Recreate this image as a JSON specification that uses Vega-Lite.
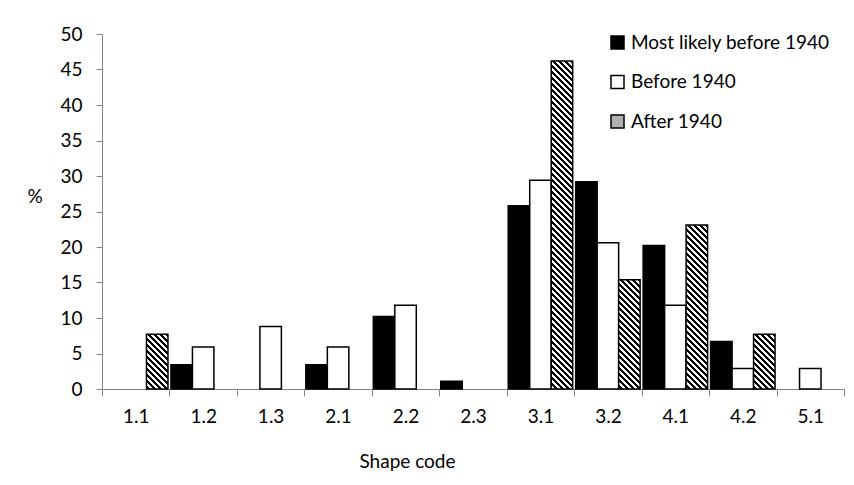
{
  "$schema": "https://vega.github.io/schema/vega-lite/v6.json",
  "width": 742,
  "height": 355,
  "autosize": {"type": "none"},
  "padding": {"left": 102, "top": 34, "right": 10, "bottom": 96},
  "background": "white",
  "config": {"font": "Lato", "view": {"stroke": null}, "axis": {"grid": false}},
  "data": {
    "values": [
      {"code": "1.1", "series": "After 1940", "pct": 7.7},
      {"code": "1.2", "series": "Most likely before 1940", "pct": 3.4},
      {"code": "1.2", "series": "Before 1940", "pct": 5.9},
      {"code": "1.3", "series": "Before 1940", "pct": 8.8},
      {"code": "2.1", "series": "Most likely before 1940", "pct": 3.4},
      {"code": "2.1", "series": "Before 1940", "pct": 5.9},
      {"code": "2.2", "series": "Most likely before 1940", "pct": 10.2},
      {"code": "2.2", "series": "Before 1940", "pct": 11.8},
      {"code": "2.3", "series": "Most likely before 1940", "pct": 1.1},
      {"code": "3.1", "series": "Most likely before 1940", "pct": 25.8},
      {"code": "3.1", "series": "Before 1940", "pct": 29.4},
      {"code": "3.1", "series": "After 1940", "pct": 46.2},
      {"code": "3.2", "series": "Most likely before 1940", "pct": 29.2},
      {"code": "3.2", "series": "Before 1940", "pct": 20.6},
      {"code": "3.2", "series": "After 1940", "pct": 15.4},
      {"code": "4.1", "series": "Most likely before 1940", "pct": 20.2},
      {"code": "4.1", "series": "Before 1940", "pct": 11.8},
      {"code": "4.1", "series": "After 1940", "pct": 23.1},
      {"code": "4.2", "series": "Most likely before 1940", "pct": 6.7},
      {"code": "4.2", "series": "Before 1940", "pct": 2.9},
      {"code": "4.2", "series": "After 1940", "pct": 7.7},
      {"code": "5.1", "series": "Before 1940", "pct": 2.9}
    ]
  },
  "mark": {"type": "bar", "stroke": "#000", "strokeWidth": 1.5},
  "encoding": {
    "x": {
      "field": "code",
      "type": "nominal",
      "scale": {"domain": ["1.1","1.2","1.3","2.1","2.2","2.3","3.1","3.2","4.1","4.2","5.1"], "paddingInner": 0, "paddingOuter": 0},
      "axis": {
        "title": "Shape code",
        "titleFontSize": 19,
        "titleFontWeight": "normal",
        "titleColor": "#000",
        "titleX": 305,
        "titleY": 78,
        "titleAlign": "center",
        "titleBaseline": "alphabetic",
        "labelAngle": 0,
        "labelFontSize": 19,
        "labelColor": "#000",
        "labelPadding": 11,
        "tickBand": "extent",
        "tickSize": 7,
        "tickColor": "#868686",
        "tickWidth": 1,
        "domainColor": "#868686",
        "domainWidth": 1
      }
    },
    "xOffset": {
      "field": "series",
      "type": "nominal",
      "scale": {"domain": ["Most likely before 1940", "Before 1940", "After 1940"], "paddingInner": 0, "paddingOuter": 0.07}
    },
    "y": {
      "field": "pct",
      "type": "quantitative",
      "scale": {"domain": [0, 50], "nice": false},
      "axis": {
        "title": "%",
        "titleAngle": 0,
        "titleX": -67.5,
        "titleY": 162,
        "titleAlign": "center",
        "titleBaseline": "middle",
        "titleFontSize": 19,
        "titleFontWeight": "normal",
        "titleColor": "#000",
        "values": [0, 5, 10, 15, 20, 25, 30, 35, 40, 45, 50],
        "labelFontSize": 19,
        "labelColor": "#000",
        "labelPadding": 14,
        "tickSize": 6,
        "tickColor": "#868686",
        "tickWidth": 1,
        "domainColor": "#868686",
        "domainWidth": 1
      }
    },
    "fill": {
      "field": "series",
      "type": "nominal",
      "scale": {"domain": ["Most likely before 1940", "Before 1940", "After 1940"], "range": ["#000000", "#ffffff", "#b0b0b0"]},
      "legend": {
        "title": null,
        "orient": "none",
        "legendX": 506,
        "legendY": -1,
        "padding": 0,
        "symbolType": "square",
        "symbolSize": 169,
        "symbolStrokeColor": "#000",
        "symbolStrokeWidth": 1.5,
        "labelFontSize": 19,
        "labelColor": "#000",
        "labelOffset": 4,
        "labelLimit": 0,
        "rowPadding": 19.5
      },
      "condition": [
        {
          "test": "datum.series === 'After 1940' && (datum.code === '1.1' || datum.code === '4.2')",
          "value": {
            "gradient": "linear", "x1": 1, "y1": 0, "x2": -2.7356, "y2": 9.507,
            "stops": [
              {"offset":0,"color":"#000"},{"offset":0.005,"color":"#000"},{"offset":0.005,"color":"#fff"},{"offset":0.01,"color":"#fff"},
              {"offset":0.01,"color":"#000"},{"offset":0.015,"color":"#000"},{"offset":0.015,"color":"#fff"},{"offset":0.02,"color":"#fff"},
              {"offset":0.02,"color":"#000"},{"offset":0.025,"color":"#000"},{"offset":0.025,"color":"#fff"},{"offset":0.03,"color":"#fff"},
              {"offset":0.03,"color":"#000"},{"offset":0.035,"color":"#000"},{"offset":0.035,"color":"#fff"},{"offset":0.04,"color":"#fff"},
              {"offset":0.04,"color":"#000"},{"offset":0.045,"color":"#000"},{"offset":0.045,"color":"#fff"},{"offset":0.05,"color":"#fff"},
              {"offset":0.05,"color":"#000"},{"offset":0.055,"color":"#000"},{"offset":0.055,"color":"#fff"},{"offset":0.06,"color":"#fff"},
              {"offset":0.06,"color":"#000"},{"offset":0.065,"color":"#000"},{"offset":0.065,"color":"#fff"},{"offset":0.07,"color":"#fff"},
              {"offset":0.07,"color":"#000"},{"offset":0.075,"color":"#000"},{"offset":0.075,"color":"#fff"},{"offset":0.08,"color":"#fff"},
              {"offset":0.08,"color":"#000"},{"offset":0.085,"color":"#000"},{"offset":0.085,"color":"#fff"},{"offset":0.09,"color":"#fff"},
              {"offset":0.09,"color":"#000"},{"offset":0.095,"color":"#000"},{"offset":0.095,"color":"#fff"},{"offset":0.1,"color":"#fff"},
              {"offset":0.1,"color":"#000"},{"offset":0.105,"color":"#000"},{"offset":0.105,"color":"#fff"},{"offset":0.11,"color":"#fff"},
              {"offset":0.11,"color":"#000"},{"offset":0.115,"color":"#000"},{"offset":0.115,"color":"#fff"},{"offset":0.12,"color":"#fff"},
              {"offset":0.12,"color":"#000"},{"offset":0.125,"color":"#000"},{"offset":0.125,"color":"#fff"},{"offset":0.13,"color":"#fff"}
            ]
          }
        },
        {
          "test": "datum.series === 'After 1940' && datum.code === '3.2'",
          "value": {
            "gradient": "linear", "x1": 1, "y1": 0, "x2": -0.03804, "y2": 5.2835,
            "stops": [
              {"offset":0,"color":"#000"},{"offset":0.005,"color":"#000"},{"offset":0.005,"color":"#fff"},{"offset":0.01,"color":"#fff"},
              {"offset":0.01,"color":"#000"},{"offset":0.015,"color":"#000"},{"offset":0.015,"color":"#fff"},{"offset":0.02,"color":"#fff"},
              {"offset":0.02,"color":"#000"},{"offset":0.025,"color":"#000"},{"offset":0.025,"color":"#fff"},{"offset":0.03,"color":"#fff"},
              {"offset":0.03,"color":"#000"},{"offset":0.035,"color":"#000"},{"offset":0.035,"color":"#fff"},{"offset":0.04,"color":"#fff"},
              {"offset":0.04,"color":"#000"},{"offset":0.045,"color":"#000"},{"offset":0.045,"color":"#fff"},{"offset":0.05,"color":"#fff"},
              {"offset":0.05,"color":"#000"},{"offset":0.055,"color":"#000"},{"offset":0.055,"color":"#fff"},{"offset":0.06,"color":"#fff"},
              {"offset":0.06,"color":"#000"},{"offset":0.065,"color":"#000"},{"offset":0.065,"color":"#fff"},{"offset":0.07,"color":"#fff"},
              {"offset":0.07,"color":"#000"},{"offset":0.075,"color":"#000"},{"offset":0.075,"color":"#fff"},{"offset":0.08,"color":"#fff"},
              {"offset":0.08,"color":"#000"},{"offset":0.085,"color":"#000"},{"offset":0.085,"color":"#fff"},{"offset":0.09,"color":"#fff"},
              {"offset":0.09,"color":"#000"},{"offset":0.095,"color":"#000"},{"offset":0.095,"color":"#fff"},{"offset":0.1,"color":"#fff"},
              {"offset":0.1,"color":"#000"},{"offset":0.105,"color":"#000"},{"offset":0.105,"color":"#fff"},{"offset":0.11,"color":"#fff"},
              {"offset":0.11,"color":"#000"},{"offset":0.115,"color":"#000"},{"offset":0.115,"color":"#fff"},{"offset":0.12,"color":"#fff"},
              {"offset":0.12,"color":"#000"},{"offset":0.125,"color":"#000"},{"offset":0.125,"color":"#fff"},{"offset":0.13,"color":"#fff"},
              {"offset":0.13,"color":"#000"},{"offset":0.135,"color":"#000"},{"offset":0.135,"color":"#fff"},{"offset":0.14,"color":"#fff"},
              {"offset":0.14,"color":"#000"},{"offset":0.145,"color":"#000"},{"offset":0.145,"color":"#fff"},{"offset":0.15,"color":"#fff"},
              {"offset":0.15,"color":"#000"},{"offset":0.155,"color":"#000"},{"offset":0.155,"color":"#fff"},{"offset":0.16,"color":"#fff"},
              {"offset":0.16,"color":"#000"},{"offset":0.165,"color":"#000"},{"offset":0.165,"color":"#fff"},{"offset":0.17,"color":"#fff"},
              {"offset":0.17,"color":"#000"},{"offset":0.175,"color":"#000"},{"offset":0.175,"color":"#fff"},{"offset":0.18,"color":"#fff"},
              {"offset":0.18,"color":"#000"},{"offset":0.185,"color":"#000"},{"offset":0.185,"color":"#fff"},{"offset":0.19,"color":"#fff"},
              {"offset":0.19,"color":"#000"},{"offset":0.195,"color":"#000"},{"offset":0.195,"color":"#fff"},{"offset":0.2,"color":"#fff"},
              {"offset":0.2,"color":"#000"},{"offset":0.205,"color":"#000"},{"offset":0.205,"color":"#fff"},{"offset":0.21,"color":"#fff"},
              {"offset":0.21,"color":"#000"},{"offset":0.215,"color":"#000"},{"offset":0.215,"color":"#fff"},{"offset":0.22,"color":"#fff"}
            ]
          }
        },
        {
          "test": "datum.series === 'After 1940' && datum.code === '4.1'",
          "value": {
            "gradient": "linear", "x1": 1, "y1": 0, "x2": 0.52892, "y2": 3.5966,
            "stops": [
              {"offset":0,"color":"#000"},{"offset":0.005,"color":"#000"},{"offset":0.005,"color":"#fff"},{"offset":0.01,"color":"#fff"},
              {"offset":0.01,"color":"#000"},{"offset":0.015,"color":"#000"},{"offset":0.015,"color":"#fff"},{"offset":0.02,"color":"#fff"},
              {"offset":0.02,"color":"#000"},{"offset":0.025,"color":"#000"},{"offset":0.025,"color":"#fff"},{"offset":0.03,"color":"#fff"},
              {"offset":0.03,"color":"#000"},{"offset":0.035,"color":"#000"},{"offset":0.035,"color":"#fff"},{"offset":0.04,"color":"#fff"},
              {"offset":0.04,"color":"#000"},{"offset":0.045,"color":"#000"},{"offset":0.045,"color":"#fff"},{"offset":0.05,"color":"#fff"},
              {"offset":0.05,"color":"#000"},{"offset":0.055,"color":"#000"},{"offset":0.055,"color":"#fff"},{"offset":0.06,"color":"#fff"},
              {"offset":0.06,"color":"#000"},{"offset":0.065,"color":"#000"},{"offset":0.065,"color":"#fff"},{"offset":0.07,"color":"#fff"},
              {"offset":0.07,"color":"#000"},{"offset":0.075,"color":"#000"},{"offset":0.075,"color":"#fff"},{"offset":0.08,"color":"#fff"},
              {"offset":0.08,"color":"#000"},{"offset":0.085,"color":"#000"},{"offset":0.085,"color":"#fff"},{"offset":0.09,"color":"#fff"},
              {"offset":0.09,"color":"#000"},{"offset":0.095,"color":"#000"},{"offset":0.095,"color":"#fff"},{"offset":0.1,"color":"#fff"},
              {"offset":0.1,"color":"#000"},{"offset":0.105,"color":"#000"},{"offset":0.105,"color":"#fff"},{"offset":0.11,"color":"#fff"},
              {"offset":0.11,"color":"#000"},{"offset":0.115,"color":"#000"},{"offset":0.115,"color":"#fff"},{"offset":0.12,"color":"#fff"},
              {"offset":0.12,"color":"#000"},{"offset":0.125,"color":"#000"},{"offset":0.125,"color":"#fff"},{"offset":0.13,"color":"#fff"},
              {"offset":0.13,"color":"#000"},{"offset":0.135,"color":"#000"},{"offset":0.135,"color":"#fff"},{"offset":0.14,"color":"#fff"},
              {"offset":0.14,"color":"#000"},{"offset":0.145,"color":"#000"},{"offset":0.145,"color":"#fff"},{"offset":0.15,"color":"#fff"},
              {"offset":0.15,"color":"#000"},{"offset":0.155,"color":"#000"},{"offset":0.155,"color":"#fff"},{"offset":0.16,"color":"#fff"},
              {"offset":0.16,"color":"#000"},{"offset":0.165,"color":"#000"},{"offset":0.165,"color":"#fff"},{"offset":0.17,"color":"#fff"},
              {"offset":0.17,"color":"#000"},{"offset":0.175,"color":"#000"},{"offset":0.175,"color":"#fff"},{"offset":0.18,"color":"#fff"},
              {"offset":0.18,"color":"#000"},{"offset":0.185,"color":"#000"},{"offset":0.185,"color":"#fff"},{"offset":0.19,"color":"#fff"},
              {"offset":0.19,"color":"#000"},{"offset":0.195,"color":"#000"},{"offset":0.195,"color":"#fff"},{"offset":0.2,"color":"#fff"},
              {"offset":0.2,"color":"#000"},{"offset":0.205,"color":"#000"},{"offset":0.205,"color":"#fff"},{"offset":0.21,"color":"#fff"},
              {"offset":0.21,"color":"#000"},{"offset":0.215,"color":"#000"},{"offset":0.215,"color":"#fff"},{"offset":0.22,"color":"#fff"},
              {"offset":0.22,"color":"#000"},{"offset":0.225,"color":"#000"},{"offset":0.225,"color":"#fff"},{"offset":0.23,"color":"#fff"},
              {"offset":0.23,"color":"#000"},{"offset":0.235,"color":"#000"},{"offset":0.235,"color":"#fff"},{"offset":0.24,"color":"#fff"},
              {"offset":0.24,"color":"#000"},{"offset":0.245,"color":"#000"},{"offset":0.245,"color":"#fff"},{"offset":0.25,"color":"#fff"},
              {"offset":0.25,"color":"#000"},{"offset":0.255,"color":"#000"},{"offset":0.255,"color":"#fff"},{"offset":0.26,"color":"#fff"},
              {"offset":0.26,"color":"#000"},{"offset":0.265,"color":"#000"},{"offset":0.265,"color":"#fff"},{"offset":0.27,"color":"#fff"},
              {"offset":0.27,"color":"#000"},{"offset":0.275,"color":"#000"},{"offset":0.275,"color":"#fff"},{"offset":0.28,"color":"#fff"},
              {"offset":0.28,"color":"#000"},{"offset":0.285,"color":"#000"},{"offset":0.285,"color":"#fff"},{"offset":0.29,"color":"#fff"},
              {"offset":0.29,"color":"#000"},{"offset":0.295,"color":"#000"},{"offset":0.295,"color":"#fff"},{"offset":0.3,"color":"#fff"},
              {"offset":0.3,"color":"#000"},{"offset":0.305,"color":"#000"},{"offset":0.305,"color":"#fff"},{"offset":0.31,"color":"#fff"}
            ]
          }
        },
        {
          "test": "datum.series === 'After 1940' && datum.code === '3.1'",
          "value": {
            "gradient": "linear", "x1": 1, "y1": 0, "x2": 0.880721, "y2": 1.82133,
            "stops": [
              {"offset":0,"color":"#000"},{"offset":0.005,"color":"#000"},{"offset":0.005,"color":"#fff"},{"offset":0.01,"color":"#fff"},
              {"offset":0.01,"color":"#000"},{"offset":0.015,"color":"#000"},{"offset":0.015,"color":"#fff"},{"offset":0.02,"color":"#fff"},
              {"offset":0.02,"color":"#000"},{"offset":0.025,"color":"#000"},{"offset":0.025,"color":"#fff"},{"offset":0.03,"color":"#fff"},
              {"offset":0.03,"color":"#000"},{"offset":0.035,"color":"#000"},{"offset":0.035,"color":"#fff"},{"offset":0.04,"color":"#fff"},
              {"offset":0.04,"color":"#000"},{"offset":0.045,"color":"#000"},{"offset":0.045,"color":"#fff"},{"offset":0.05,"color":"#fff"},
              {"offset":0.05,"color":"#000"},{"offset":0.055,"color":"#000"},{"offset":0.055,"color":"#fff"},{"offset":0.06,"color":"#fff"},
              {"offset":0.06,"color":"#000"},{"offset":0.065,"color":"#000"},{"offset":0.065,"color":"#fff"},{"offset":0.07,"color":"#fff"},
              {"offset":0.07,"color":"#000"},{"offset":0.075,"color":"#000"},{"offset":0.075,"color":"#fff"},{"offset":0.08,"color":"#fff"},
              {"offset":0.08,"color":"#000"},{"offset":0.085,"color":"#000"},{"offset":0.085,"color":"#fff"},{"offset":0.09,"color":"#fff"},
              {"offset":0.09,"color":"#000"},{"offset":0.095,"color":"#000"},{"offset":0.095,"color":"#fff"},{"offset":0.1,"color":"#fff"},
              {"offset":0.1,"color":"#000"},{"offset":0.105,"color":"#000"},{"offset":0.105,"color":"#fff"},{"offset":0.11,"color":"#fff"},
              {"offset":0.11,"color":"#000"},{"offset":0.115,"color":"#000"},{"offset":0.115,"color":"#fff"},{"offset":0.12,"color":"#fff"},
              {"offset":0.12,"color":"#000"},{"offset":0.125,"color":"#000"},{"offset":0.125,"color":"#fff"},{"offset":0.13,"color":"#fff"},
              {"offset":0.13,"color":"#000"},{"offset":0.135,"color":"#000"},{"offset":0.135,"color":"#fff"},{"offset":0.14,"color":"#fff"},
              {"offset":0.14,"color":"#000"},{"offset":0.145,"color":"#000"},{"offset":0.145,"color":"#fff"},{"offset":0.15,"color":"#fff"},
              {"offset":0.15,"color":"#000"},{"offset":0.155,"color":"#000"},{"offset":0.155,"color":"#fff"},{"offset":0.16,"color":"#fff"},
              {"offset":0.16,"color":"#000"},{"offset":0.165,"color":"#000"},{"offset":0.165,"color":"#fff"},{"offset":0.17,"color":"#fff"},
              {"offset":0.17,"color":"#000"},{"offset":0.175,"color":"#000"},{"offset":0.175,"color":"#fff"},{"offset":0.18,"color":"#fff"},
              {"offset":0.18,"color":"#000"},{"offset":0.185,"color":"#000"},{"offset":0.185,"color":"#fff"},{"offset":0.19,"color":"#fff"},
              {"offset":0.19,"color":"#000"},{"offset":0.195,"color":"#000"},{"offset":0.195,"color":"#fff"},{"offset":0.2,"color":"#fff"},
              {"offset":0.2,"color":"#000"},{"offset":0.205,"color":"#000"},{"offset":0.205,"color":"#fff"},{"offset":0.21,"color":"#fff"},
              {"offset":0.21,"color":"#000"},{"offset":0.215,"color":"#000"},{"offset":0.215,"color":"#fff"},{"offset":0.22,"color":"#fff"},
              {"offset":0.22,"color":"#000"},{"offset":0.225,"color":"#000"},{"offset":0.225,"color":"#fff"},{"offset":0.23,"color":"#fff"},
              {"offset":0.23,"color":"#000"},{"offset":0.235,"color":"#000"},{"offset":0.235,"color":"#fff"},{"offset":0.24,"color":"#fff"},
              {"offset":0.24,"color":"#000"},{"offset":0.245,"color":"#000"},{"offset":0.245,"color":"#fff"},{"offset":0.25,"color":"#fff"},
              {"offset":0.25,"color":"#000"},{"offset":0.255,"color":"#000"},{"offset":0.255,"color":"#fff"},{"offset":0.26,"color":"#fff"},
              {"offset":0.26,"color":"#000"},{"offset":0.265,"color":"#000"},{"offset":0.265,"color":"#fff"},{"offset":0.27,"color":"#fff"},
              {"offset":0.27,"color":"#000"},{"offset":0.275,"color":"#000"},{"offset":0.275,"color":"#fff"},{"offset":0.28,"color":"#fff"},
              {"offset":0.28,"color":"#000"},{"offset":0.285,"color":"#000"},{"offset":0.285,"color":"#fff"},{"offset":0.29,"color":"#fff"},
              {"offset":0.29,"color":"#000"},{"offset":0.295,"color":"#000"},{"offset":0.295,"color":"#fff"},{"offset":0.3,"color":"#fff"},
              {"offset":0.3,"color":"#000"},{"offset":0.305,"color":"#000"},{"offset":0.305,"color":"#fff"},{"offset":0.31,"color":"#fff"},
              {"offset":0.31,"color":"#000"},{"offset":0.315,"color":"#000"},{"offset":0.315,"color":"#fff"},{"offset":0.32,"color":"#fff"},
              {"offset":0.32,"color":"#000"},{"offset":0.325,"color":"#000"},{"offset":0.325,"color":"#fff"},{"offset":0.33,"color":"#fff"},
              {"offset":0.33,"color":"#000"},{"offset":0.335,"color":"#000"},{"offset":0.335,"color":"#fff"},{"offset":0.34,"color":"#fff"},
              {"offset":0.34,"color":"#000"},{"offset":0.345,"color":"#000"},{"offset":0.345,"color":"#fff"},{"offset":0.35,"color":"#fff"},
              {"offset":0.35,"color":"#000"},{"offset":0.355,"color":"#000"},{"offset":0.355,"color":"#fff"},{"offset":0.36,"color":"#fff"},
              {"offset":0.36,"color":"#000"},{"offset":0.365,"color":"#000"},{"offset":0.365,"color":"#fff"},{"offset":0.37,"color":"#fff"},
              {"offset":0.37,"color":"#000"},{"offset":0.375,"color":"#000"},{"offset":0.375,"color":"#fff"},{"offset":0.38,"color":"#fff"},
              {"offset":0.38,"color":"#000"},{"offset":0.385,"color":"#000"},{"offset":0.385,"color":"#fff"},{"offset":0.39,"color":"#fff"},
              {"offset":0.39,"color":"#000"},{"offset":0.395,"color":"#000"},{"offset":0.395,"color":"#fff"},{"offset":0.4,"color":"#fff"},
              {"offset":0.4,"color":"#000"},{"offset":0.405,"color":"#000"},{"offset":0.405,"color":"#fff"},{"offset":0.41,"color":"#fff"},
              {"offset":0.41,"color":"#000"},{"offset":0.415,"color":"#000"},{"offset":0.415,"color":"#fff"},{"offset":0.42,"color":"#fff"},
              {"offset":0.42,"color":"#000"},{"offset":0.425,"color":"#000"},{"offset":0.425,"color":"#fff"},{"offset":0.43,"color":"#fff"},
              {"offset":0.43,"color":"#000"},{"offset":0.435,"color":"#000"},{"offset":0.435,"color":"#fff"},{"offset":0.44,"color":"#fff"},
              {"offset":0.44,"color":"#000"},{"offset":0.445,"color":"#000"},{"offset":0.445,"color":"#fff"},{"offset":0.45,"color":"#fff"},
              {"offset":0.45,"color":"#000"},{"offset":0.455,"color":"#000"},{"offset":0.455,"color":"#fff"},{"offset":0.46,"color":"#fff"},
              {"offset":0.46,"color":"#000"},{"offset":0.465,"color":"#000"},{"offset":0.465,"color":"#fff"},{"offset":0.47,"color":"#fff"},
              {"offset":0.47,"color":"#000"},{"offset":0.475,"color":"#000"},{"offset":0.475,"color":"#fff"},{"offset":0.48,"color":"#fff"},
              {"offset":0.48,"color":"#000"},{"offset":0.485,"color":"#000"},{"offset":0.485,"color":"#fff"},{"offset":0.49,"color":"#fff"},
              {"offset":0.49,"color":"#000"},{"offset":0.495,"color":"#000"},{"offset":0.495,"color":"#fff"},{"offset":0.5,"color":"#fff"},
              {"offset":0.5,"color":"#000"},{"offset":0.505,"color":"#000"},{"offset":0.505,"color":"#fff"},{"offset":0.51,"color":"#fff"},
              {"offset":0.51,"color":"#000"},{"offset":0.515,"color":"#000"},{"offset":0.515,"color":"#fff"},{"offset":0.52,"color":"#fff"},
              {"offset":0.52,"color":"#000"},{"offset":0.525,"color":"#000"},{"offset":0.525,"color":"#fff"},{"offset":0.53,"color":"#fff"},
              {"offset":0.53,"color":"#000"},{"offset":0.535,"color":"#000"},{"offset":0.535,"color":"#fff"},{"offset":0.54,"color":"#fff"},
              {"offset":0.54,"color":"#000"},{"offset":0.545,"color":"#000"},{"offset":0.545,"color":"#fff"},{"offset":0.55,"color":"#fff"},
              {"offset":0.55,"color":"#000"},{"offset":0.555,"color":"#000"},{"offset":0.555,"color":"#fff"},{"offset":0.56,"color":"#fff"},
              {"offset":0.56,"color":"#000"},{"offset":0.565,"color":"#000"},{"offset":0.565,"color":"#fff"},{"offset":0.57,"color":"#fff"},
              {"offset":0.57,"color":"#000"},{"offset":0.575,"color":"#000"},{"offset":0.575,"color":"#fff"},{"offset":0.58,"color":"#fff"},
              {"offset":0.58,"color":"#000"},{"offset":0.585,"color":"#000"},{"offset":0.585,"color":"#fff"},{"offset":0.59,"color":"#fff"}
            ]
          }
        }
      ]
    }
  }
}
